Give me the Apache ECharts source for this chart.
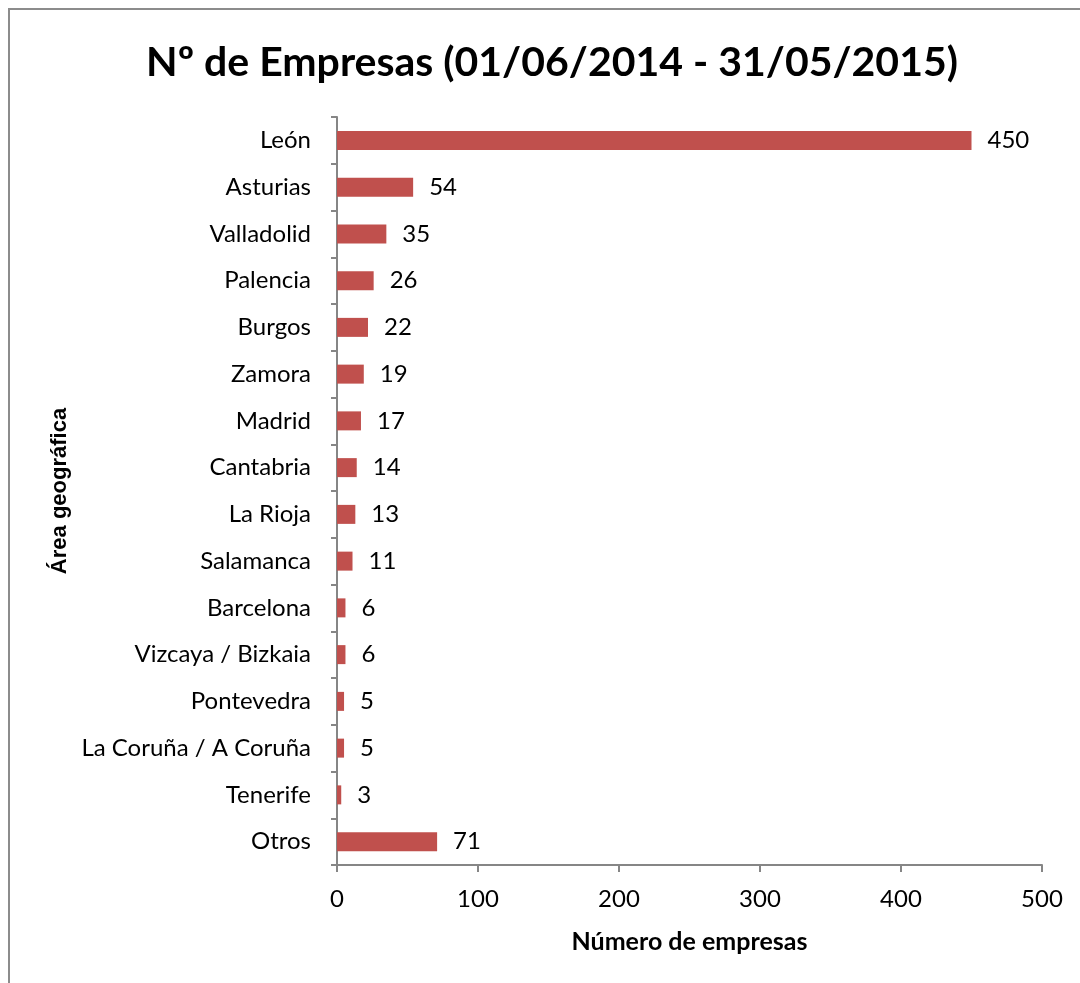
<!DOCTYPE html>
<html>
<head>
<meta charset="utf-8">
<script src="https://cdn.jsdelivr.net/npm/echarts@6/dist/echarts.min.js"></script>
<style>
  html, body { margin: 0; padding: 0; background: #fff; }
  #frame {
    position: absolute; left: 8px; top: 8px; width: 1080px; height: 990px;
    border-left: 2px solid #8c8c8c; border-top: 2px solid #8c8c8c;
  }
  #chart { position: absolute; left: 0; top: 0; width: 1080px; height: 983px; }
</style>
</head>
<body>
<div id="frame"></div>
<div id="chart"></div>
<script>
// categorias y valores
var areas = ['León', 'Asturias', 'Valladolid', 'Palencia', 'Burgos', 'Zamora', 'Madrid',
  'Cantabria', 'La Rioja', 'Salamanca', 'Barcelona', 'Vizcaya / Bizkaia', 'Pontevedra',
  'La Coruña / A Coruña', 'Tenerife', 'Otros'];
var empresas = [450, 54, 35, 26, 22, 19, 17, 14, 13, 11, 6, 6, 5, 5, 3, 71];
var xTicks = [0, 100, 200, 300, 400, 500];

var font = 'Lato, "Open Sans", sans-serif';
var axisGrey = '#868686';

var chart = echarts.init(document.getElementById('chart'));
var option = {
  animation: false,
  title: {
    text: 'Nº de Empresas (01/06/2014 - 31/05/2015)',
    left: 547, top: 37, textAlign: 'center',
    textStyle: { fontFamily: font, fontSize: 41, fontWeight: 'bold', color: '#000' }
  },
  grid: { left: 337, right: 38, top: 117, bottom: 118, containLabel: false },
  xAxis: {
    type: 'value',
    min: xTicks[0], max: xTicks[xTicks.length - 1], interval: 100,
    name: 'Número de empresas',
    nameLocation: 'middle', nameGap: 64,
    nameTextStyle: { fontFamily: font, fontSize: 25, fontWeight: 'bold', color: '#000' },
    axisLine: { show: true, lineStyle: { color: axisGrey, width: 2 } },
    axisTick: { show: true, length: 7, lineStyle: { color: axisGrey, width: 2 } },
    axisLabel: { fontFamily: font, fontSize: 24, color: '#000', margin: 22 },
    splitLine: { show: false }
  },
  yAxis: {
    type: 'category',
    data: areas,
    inverse: true,
    name: 'Área geográfica',
    nameLocation: 'middle', nameGap: 266, nameRotate: 90,
    nameTextStyle: { fontFamily: '"Liberation Sans", Arial, sans-serif', fontSize: 22, fontWeight: 'bold', color: '#000' },
    axisLine: { show: true, lineStyle: { color: axisGrey, width: 2 } },
    axisTick: { show: true, length: 6, lineStyle: { color: axisGrey, width: 2 } },
    axisLabel: { fontFamily: font, fontSize: 24, color: '#000', margin: 26 }
  },
  series: [{
    type: 'bar',
    data: empresas,
    barWidth: 19,
    itemStyle: { color: '#C0504D' },
    label: {
      show: true, position: 'right', distance: 16,
      fontFamily: font, fontSize: 24, color: '#000'
    }
  }]
};
chart.setOption(option);
</script>
</body>
</html>
